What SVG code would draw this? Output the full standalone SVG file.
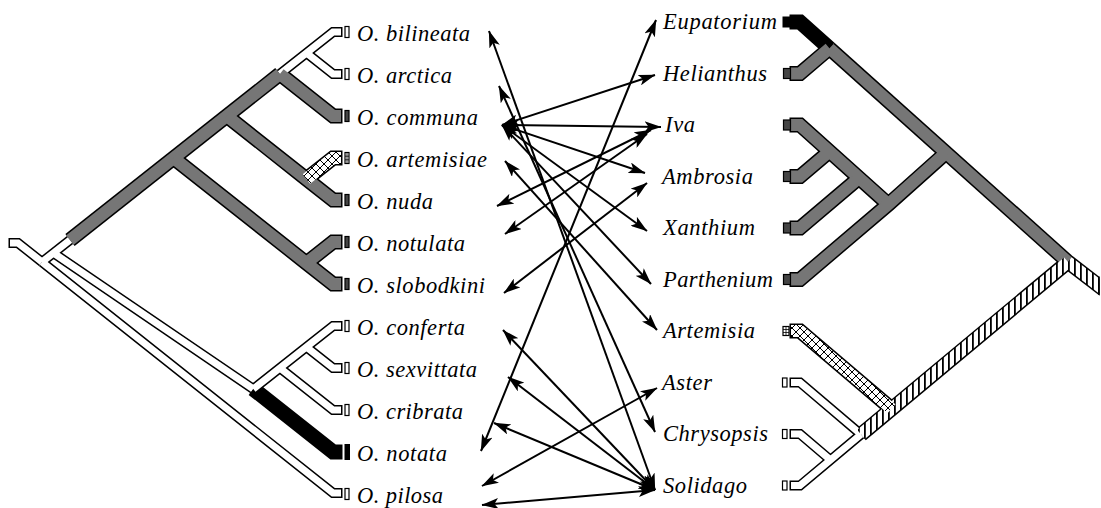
<svg xmlns="http://www.w3.org/2000/svg" width="1101" height="508" viewBox="0 0 1101 508">
<style>
.o{fill:none;stroke:#000;stroke-linejoin:miter;stroke-miterlimit:10;stroke-linecap:butt}
.ow{stroke-width:10}
.oc{stroke-width:15}
.f{fill:none;stroke-linejoin:miter;stroke-miterlimit:10;stroke-linecap:butt}
.fw{stroke:#fff;stroke-width:7}
.fg{stroke:#767676;stroke-width:12}
.fb{stroke:#000;stroke-width:12}
.fx{stroke:url(#xh);stroke-width:12}
.fv{stroke:url(#vh);stroke-width:12}
.lab{font-family:"Liberation Serif","Times New Roman",serif;font-style:italic;font-size:22.5px;fill:#000}
.tw{fill:#fff;stroke:#000;stroke-width:1.2}
.tg{fill:#444;stroke:#000;stroke-width:1.2}
.tb{fill:#000;stroke:#000;stroke-width:1}
.arr{fill:none;stroke:#000;stroke-width:2;marker-start:url(#ah);marker-end:url(#ah)}
</style>
<defs>
<pattern id="xh" width="8" height="8" patternUnits="userSpaceOnUse"><rect width="8" height="8" fill="#fff"/><path d="M0,0L8,8M8,0L0,8" stroke="#000" stroke-width="1"/></pattern>
<pattern id="vh" width="6" height="6" patternUnits="userSpaceOnUse"><rect width="6" height="6" fill="#fff"/><rect width="1.8" height="6" fill="#000"/></pattern>
<marker id="ah" viewBox="0 0 17 11" refX="16.5" refY="5.5" markerWidth="17" markerHeight="11" markerUnits="userSpaceOnUse" orient="auto-start-reverse"><path d="M0,0 L17,5.5 L0,11 L4,5.5 z" fill="#000"/></marker>
<clipPath id="cr"><rect x="0" y="0" width="1099.5" height="508"/></clipPath>
</defs>
<rect width="1101" height="508" fill="#fff"/>

<g id="left-tree">
<g class="o">
<path class="ow" d="M42,262 L18,243 L8.5,243"/>
<path class="ow" d="M42,262 L333,493 L342.5,493"/>
<path class="ow" d="M42,262 L70,240"/>
<path class="oc" d="M70,240 L279.9,74"/>
<path class="ow" d="M279.9,74 L306.5,53 L333,32 L342.5,32"/>
<path class="ow" d="M306.5,53 L333,74 L342.5,74"/>
<path class="oc" d="M279.9,74 L333,116 L342.5,116"/>
<path class="oc" d="M226.8,116 L306.4,179 L333,200 L342.5,200"/>
<path class="oc" d="M306.4,179 L333,158 L342.5,158"/>
<path class="oc" d="M173.5,158 L306.4,263 L333,284 L342.5,284"/>
<path class="oc" d="M306.4,263 L333,242 L342.5,242"/>
<path class="ow" d="M55,254 L253.3,389"/>
<path class="oc" d="M253.3,389 L333,452 L342.5,452"/>
<path class="ow" d="M253.3,389 L306.4,347 L333,326 L342.5,326"/>
<path class="ow" d="M306.4,347 L333,368 L342.5,368"/>
<path class="ow" d="M279.9,368 L333,410 L342.5,410"/>
</g>
<g class="f">
<path class="fw" d="M42,262 L18,243 L10,243"/>
<path class="fw" d="M42,262 L333,493 L341,493"/>
<path class="fw" d="M42,262 L70,240"/>
<path class="fw" d="M55,254 L253.3,389"/>
<path class="fw" d="M279.9,74 L306.5,53 L333,32 L341,32"/>
<path class="fw" d="M306.5,53 L333,74 L341,74"/>
<path class="fg" d="M70,240 L279.9,74"/>
<path class="fg" d="M279.9,74 L333,116 L341,116"/>
<path class="fg" d="M226.8,116 L306.4,179 L333,200 L341,200"/>
<path class="fx" d="M306.4,179 L333,158 L341,158"/>
<path class="fg" d="M173.5,158 L306.4,263 L333,284 L341,284"/>
<path class="fg" d="M306.4,263 L333,242 L341,242"/>
<path class="fb" d="M253.3,389 L333,452 L341,452"/>
<path class="fw" d="M253.3,389 L306.4,347 L333,326 L341,326"/>
<path class="fw" d="M306.4,347 L333,368 L341,368"/>
<path class="fw" d="M279.9,368 L333,410 L341,410"/>
</g>
</g>

<g id="right-tree">
<g class="o">
<path class="oc" d="M789.5,22 L800,22 L829.5,48.4"/>
<path class="oc" d="M789.5,73.5 L800,73.5 L829.5,48.4"/>
<path class="oc" d="M829.5,48.4 L1068,262"/>
<path class="oc" d="M789.5,125 L800,125 L888.4,204.3"/>
<path class="oc" d="M789.5,176.5 L800,176.5 L829.5,151.5"/>
<path class="oc" d="M789.5,228 L800,228 L859,178"/>
<path class="oc" d="M789.5,279.5 L800,279.5 L888.4,204.3 L946,152.8"/>
<path class="ow" d="M789.5,485.5 L800,485.5 L861,434.4"/>
<path class="ow" d="M789.5,434 L800,434 L830.5,460"/>
<path class="ow" d="M789.5,382.5 L800,382.5 L861,434.4"/>
<path class="oc" d="M861,434.4 L1068,262"/>
<path class="oc" d="M789.5,331 L800,331 L891.5,408.8"/>
<path class="oc" d="M1068,262 L1120,302" clip-path="url(#cr)"/>
</g>
<g class="f">
<path class="fb" d="M791,22 L800,22 L829.5,48.4"/>
<path class="fg" d="M791,73.5 L800,73.5 L829.5,48.4"/>
<path class="fg" d="M829.5,48.4 L1068,262"/>
<path class="fg" d="M791,125 L800,125 L888.4,204.3"/>
<path class="fg" d="M791,176.5 L800,176.5 L829.5,151.5"/>
<path class="fg" d="M791,228 L800,228 L859,178"/>
<path class="fg" d="M791,279.5 L800,279.5 L888.4,204.3 L946,152.8"/>
<path class="fw" d="M791,485.5 L800,485.5 L861,434.4"/>
<path class="fw" d="M791,434 L800,434 L830.5,460"/>
<path class="fw" d="M791,382.5 L800,382.5 L861,434.4"/>
<path class="fv" d="M861,434.4 L1068,262"/>
<path class="fx" d="M791,331 L800,331 L891.5,408.8"/>
<path class="fv" d="M1068,262 L1120,302" clip-path="url(#cr)"/>
</g>
<line x1="1099" y1="276.5" x2="1099" y2="295" stroke="#000" stroke-width="1.5"/>
</g>

<g id="connectors">
<path class="arr" d="M489,31 L655,490"/>
<path class="arr" d="M499,86 L655,432"/>
<path class="arr" d="M502,125 L655,75"/>
<path class="arr" d="M502,125 L661,127"/>
<path class="arr" d="M502,125 L645,173"/>
<path class="arr" d="M502,125 L647,231"/>
<path class="arr" d="M502,125 L651,284"/>
<path class="arr" d="M505,161 L657,330"/>
<path class="arr" d="M497,206 L651,130"/>
<path class="arr" d="M505,234 L647,134"/>
<path class="arr" d="M504,293 L647,183"/>
<path class="arr" d="M503,330 L655,490"/>
<path class="arr" d="M508,377 L655,490"/>
<path class="arr" d="M494,423 L655,490"/>
<path class="arr" d="M481,451 L656,20"/>
<path class="arr" d="M482,486 L657,388"/>
<path class="arr" d="M482,505 L655,490"/>
</g>

<g id="o-bilineata"><rect class="tw" x="345" y="26.5" width="4" height="11"/><text class="lab" x="357" y="40.5" textLength="113" lengthAdjust="spacing">O. bilineata</text></g>
<g id="o-arctica"><rect class="tw" x="345" y="68.5" width="4" height="11"/><text class="lab" x="357" y="82.5" textLength="95" lengthAdjust="spacing">O. arctica</text></g>
<g id="o-communa"><rect class="tg" x="345" y="110.5" width="4" height="11"/><text class="lab" x="357" y="124.5" textLength="121" lengthAdjust="spacing">O. communa</text></g>
<g id="o-artemisiae"><rect class="tw" x="345" y="152.5" width="4" height="11"/><path d="M347,152.5V163.5M345,156.2H349M345,159.8H349" stroke="#000" stroke-width="0.8"/><text class="lab" x="357" y="166.5" textLength="130" lengthAdjust="spacing">O. artemisiae</text></g>
<g id="o-nuda"><rect class="tg" x="345" y="194.5" width="4" height="11"/><text class="lab" x="357" y="208.5" textLength="76" lengthAdjust="spacing">O. nuda</text></g>
<g id="o-notulata"><rect class="tg" x="345" y="236.5" width="4" height="11"/><text class="lab" x="357" y="250.5" textLength="108" lengthAdjust="spacing">O. notulata</text></g>
<g id="o-slobodkini"><rect class="tg" x="345" y="278.5" width="4" height="11"/><text class="lab" x="357" y="292.5" textLength="128" lengthAdjust="spacing">O. slobodkini</text></g>
<g id="o-conferta"><rect class="tw" x="345" y="320.5" width="4" height="11"/><text class="lab" x="357" y="334.5" textLength="108" lengthAdjust="spacing">O. conferta</text></g>
<g id="o-sexvittata"><rect class="tw" x="345" y="362.5" width="4" height="11"/><text class="lab" x="357" y="376.5" textLength="120" lengthAdjust="spacing">O. sexvittata</text></g>
<g id="o-cribrata"><rect class="tw" x="345" y="404.5" width="4" height="11"/><text class="lab" x="357" y="418.5" textLength="106" lengthAdjust="spacing">O. cribrata</text></g>
<g id="o-notata"><rect class="tb" x="345" y="444.5" width="4.5" height="15"/><text class="lab" x="357" y="460.5" textLength="90" lengthAdjust="spacing">O. notata</text></g>
<g id="o-pilosa"><rect class="tw" x="345" y="488.5" width="4" height="11"/><text class="lab" x="357" y="502.5" textLength="86" lengthAdjust="spacing">O. pilosa</text></g>

<g id="eupatorium"><rect class="tb" x="783" y="17" width="8" height="10"/><text class="lab" x="663" y="29" textLength="114" lengthAdjust="spacing">Eupatorium</text></g>
<g id="helianthus"><rect class="tg" x="783.5" y="68.5" width="7" height="10"/><text class="lab" x="663" y="80.5" textLength="104" lengthAdjust="spacing">Helianthus</text></g>
<g id="iva"><rect class="tg" x="783.5" y="120" width="7" height="10"/><text class="lab" x="665" y="132" textLength="30" lengthAdjust="spacing">Iva</text></g>
<g id="ambrosia"><rect class="tg" x="783.5" y="171.5" width="7" height="10"/><text class="lab" x="662" y="183.5" textLength="91" lengthAdjust="spacing">Ambrosia</text></g>
<g id="xanthium"><rect class="tg" x="783.5" y="223" width="7" height="10"/><text class="lab" x="663" y="235" textLength="92" lengthAdjust="spacing">Xanthium</text></g>
<g id="parthenium"><rect class="tg" x="783.5" y="274.5" width="7" height="10"/><text class="lab" x="663" y="286.5" textLength="110" lengthAdjust="spacing">Parthenium</text></g>
<g id="artemisia"><rect class="tw" x="783" y="326.5" width="6" height="9"/><path d="M786,326.5V335.5M783,329.5H789M783,332.5H789" stroke="#000" stroke-width="0.8"/><text class="lab" x="663" y="338" textLength="92" lengthAdjust="spacing">Artemisia</text></g>
<g id="aster"><rect class="tw" x="782.5" y="378" width="4.5" height="9"/><text class="lab" x="662" y="389.5" textLength="50" lengthAdjust="spacing">Aster</text></g>
<g id="chrysopsis"><rect class="tw" x="782.5" y="429.5" width="4.5" height="9"/><text class="lab" x="663" y="441" textLength="105" lengthAdjust="spacing">Chrysopsis</text></g>
<g id="solidago"><rect class="tw" x="782.5" y="481" width="4.5" height="9"/><text class="lab" x="663" y="492.5" textLength="84" lengthAdjust="spacing">Solidago</text></g>
</svg>
